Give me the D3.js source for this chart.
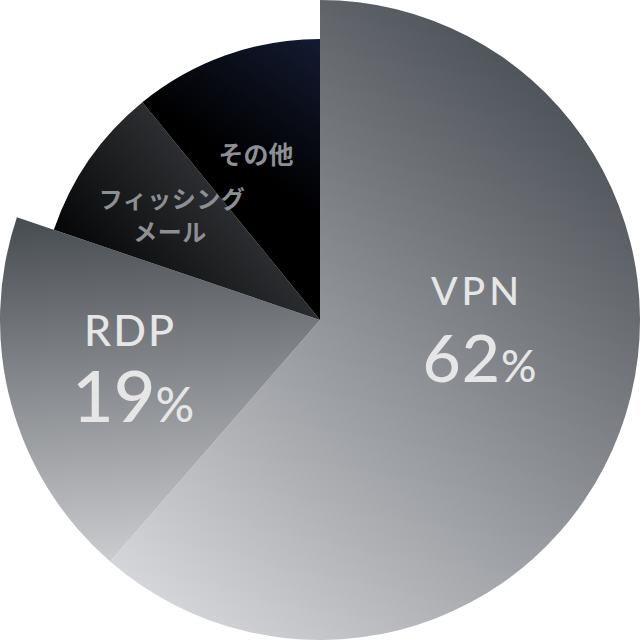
<!DOCTYPE html>
<html><head><meta charset="utf-8">
<script src="https://cdn.jsdelivr.net/npm/d3@7"></script>
<style>html,body{margin:0;padding:0;background:#fff;overflow:hidden}</style>
</head><body>
<svg id="c" width="641" height="642"></svg>
<script>
// Data
const categories = ["VPN", "RDP", "フィッシングメール", "その他"];
const values = [62, 19, 9, 11];
const valueLabels = ["62", "19", "", ""];

const svg = d3.select("#c");
const cx = 320, cy = 320;
const outerR = [320, 320, 281, 281];

const defs = svg.append("defs");
const grads = [
  {x1:130,y1:600,x2:570,y2:80, stops:[["0%","#d8d9dc"],["100%","#4b5056"]]},
  {x1:60,y1:570,x2:40,y2:215, stops:[["0%","#cdced1"],["100%","#464b50"]]},
  {x1:90,y1:270,x2:240,y2:140, stops:[["0%","#050607"],["100%","#383b3e"]]},
  {x1:250,y1:170,x2:340,y2:35, stops:[["0%","#000000"],["100%","#161d36"]]}
];
grads.forEach((g,i)=>{
  const lg = defs.append("linearGradient").attr("id","g"+i)
    .attr("gradientUnits","userSpaceOnUse")
    .attr("x1",g.x1-cx).attr("y1",g.y1-cy).attr("x2",g.x2-cx).attr("y2",g.y2-cy);
  g.stops.forEach(s=>lg.append("stop").attr("offset",s[0]).attr("stop-color",s[1]));
});

const pie = d3.pie().sort(null).value(d=>d)(values);
const arc = d3.arc().innerRadius(0);
const g = svg.append("g").attr("transform",`translate(${cx},${cy})`);
g.selectAll("path").data(pie).join("path")
  .attr("d",(d,i)=>arc.outerRadius(outerR[i])(d))
  .attr("fill",(d,i)=>`url(#g${i})`);

// Labels
const big = svg.append("g").attr("fill","#e6e6e6").attr("font-family","Lato, 'DejaVu Sans', sans-serif").attr("font-weight",500).attr("text-anchor","middle");
big.append("text").attr("x",477).attr("y",305).attr("font-size",39).attr("letter-spacing",4).text(categories[0]);
const t62 = big.append("text").attr("x",480).attr("y",382).attr("letter-spacing",1);
t62.append("tspan").attr("font-size",66).text(valueLabels[0]);
t62.append("tspan").attr("font-size",44).text("%");
big.append("text").attr("x",130).attr("y",346).attr("font-size",43).attr("letter-spacing",2).text(categories[1]);
const t19 = big.append("text").attr("x",133).attr("y",422).attr("letter-spacing",0);
t19.append("tspan").attr("font-size",72).text(valueLabels[1]);
t19.append("tspan").attr("font-size",48).text("%");

const jp = svg.append("g").attr("fill","#8c8f93").attr("font-family","'Noto Sans CJK JP', sans-serif").attr("font-weight",700).attr("text-anchor","middle");
jp.append("text").attr("x",256).attr("y",164).attr("font-size",25).text(categories[3]);
jp.append("text").attr("x",172).attr("y",208).attr("font-size",24).attr("letter-spacing",0.5).text(categories[2].slice(0,6));
jp.append("text").attr("x",170).attr("y",241).attr("font-size",24).attr("letter-spacing",0.5).text(categories[2].slice(6));
</script>
</body></html>
